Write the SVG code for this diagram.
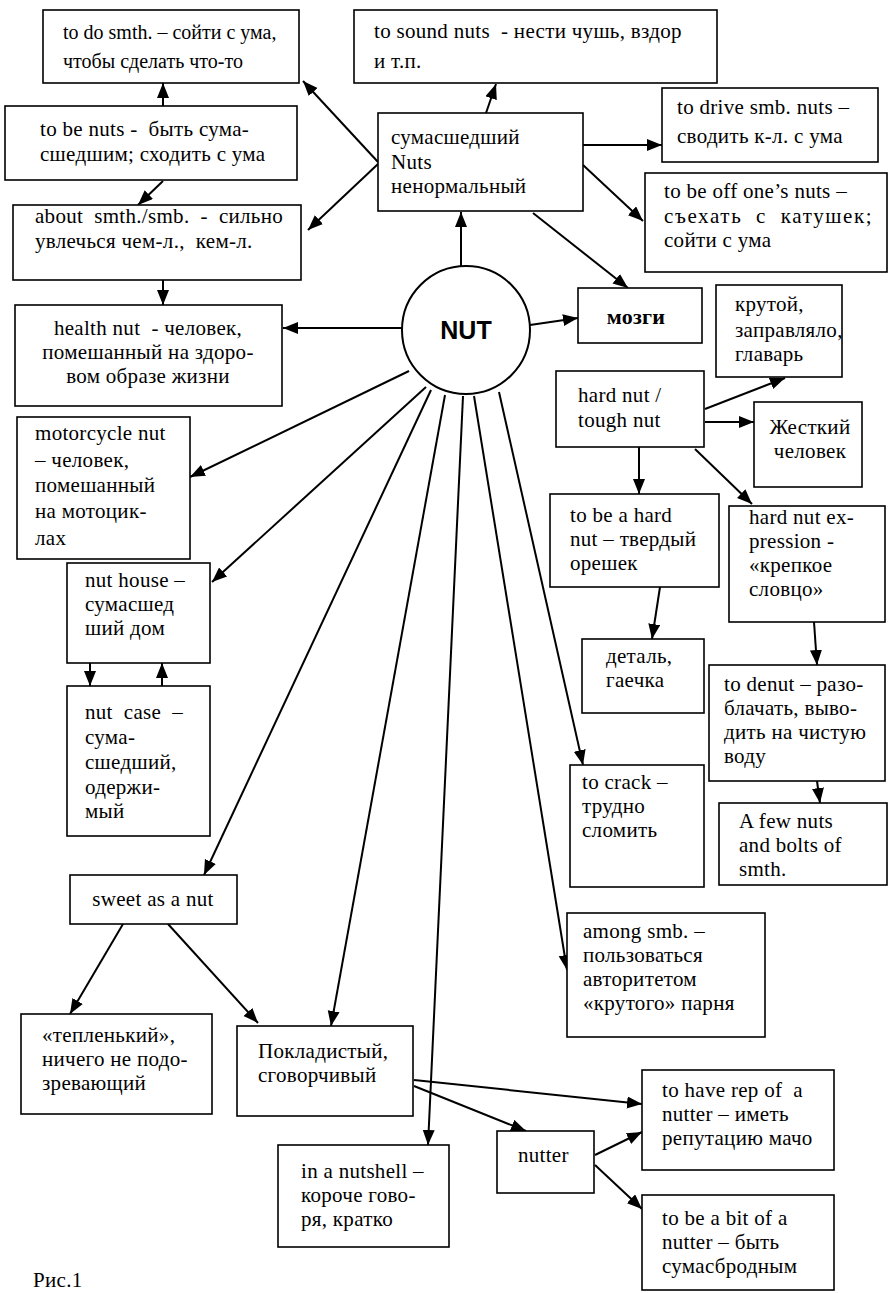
<svg xmlns="http://www.w3.org/2000/svg" width="888" height="1293" viewBox="0 0 888 1293" font-family="'Liberation Serif', serif">
<style>
  rect.box { fill: #fff; stroke: #000; stroke-width: 1.6; }
  text { font-family: "Liberation Serif", "Times New Roman", serif; font-size: 21px; letter-spacing: 0.3px; fill: #000; white-space: pre; }
  .mid { text-anchor: middle; }
  .small { font-size: 20px; letter-spacing: 0; }
  .nut { font-family: "Liberation Sans", Arial, sans-serif; font-weight: bold; font-size: 25px; letter-spacing: 0; }
  .bold { font-weight: bold; font-size: 22px; }
  #connectors line { stroke: #000; stroke-width: 2; marker-end: url(#ah); }
</style>
<defs>
  <marker id="ah" markerUnits="userSpaceOnUse" markerWidth="16" markerHeight="13" refX="15" refY="6" orient="auto">
    <path d="M0,0 L15,6 L0,12 z" fill="#000"/>
  </marker>
</defs>
<rect width="888" height="1293" fill="#fff"/>

<g id="connectors">
  <line x1="378" y1="162" x2="303" y2="81"/>
  <line x1="378" y1="164" x2="308" y2="230"/>
  <line x1="486" y1="113" x2="496" y2="84"/>
  <line x1="583" y1="145" x2="662" y2="145"/>
  <line x1="583" y1="165" x2="643" y2="221"/>
  <line x1="533" y1="213" x2="628" y2="288"/>
  <line x1="461" y1="266" x2="461" y2="212"/>
  <line x1="163" y1="106" x2="163" y2="83"/>
  <line x1="163" y1="181" x2="138" y2="205"/>
  <line x1="163" y1="280" x2="163" y2="305"/>
  <line x1="403" y1="328" x2="283" y2="328"/>
  <line x1="530" y1="325" x2="578" y2="318"/>
  <line x1="409" y1="371" x2="190" y2="477"/>
  <line x1="426" y1="387" x2="212" y2="582"/>
  <line x1="90" y1="663" x2="90" y2="686"/>
  <line x1="162" y1="686" x2="162" y2="663"/>
  <line x1="431" y1="390" x2="204" y2="875"/>
  <line x1="123" y1="924" x2="70" y2="1014"/>
  <line x1="168" y1="924" x2="258" y2="1023"/>
  <line x1="445" y1="395" x2="331" y2="1026"/>
  <line x1="463" y1="396" x2="428" y2="1145"/>
  <line x1="474" y1="396" x2="567" y2="970"/>
  <line x1="499" y1="392" x2="583" y2="765"/>
  <line x1="414" y1="1086" x2="526" y2="1131"/>
  <line x1="414" y1="1080" x2="642" y2="1104"/>
  <line x1="595" y1="1155" x2="642" y2="1132"/>
  <line x1="595" y1="1165" x2="642" y2="1209"/>
  <line x1="705" y1="409" x2="785" y2="378"/>
  <line x1="705" y1="422" x2="754" y2="422"/>
  <line x1="695" y1="449" x2="752" y2="504"/>
  <line x1="639" y1="447" x2="639" y2="494"/>
  <line x1="660" y1="587" x2="652" y2="639"/>
  <line x1="814" y1="622" x2="817" y2="665"/>
  <line x1="817" y1="781" x2="820" y2="803"/>
</g>

<g id="n_todo">
  <rect class="box" x="43" y="10" width="256" height="73"/>
  <text class="small" x="63" y="39">to do smth. – сойти с ума,</text>
  <text class="small" x="63" y="68">чтобы сделать что-то</text>
</g>
<g id="n_benuts">
  <rect class="box" x="5" y="106" width="292" height="74"/>
  <text x="40" y="136">to be nuts -  быть сума-</text>
  <text x="40" y="161">сшедшим; сходить с ума</text>
</g>
<g id="n_about">
  <rect class="box" x="13" y="205" width="288" height="75"/>
  <text x="35" y="223">about  smth./smb.  -  сильно</text>
  <text x="35" y="248">увлечься чем-л.,  кем-л.</text>
</g>
<g id="n_health">
  <rect class="box" x="15" y="305" width="267" height="101"/>
  <text class="mid" x="148" y="335">health nut  - человек,</text>
  <text class="mid" x="148" y="359">помешанный на здоро-</text>
  <text class="mid" x="148" y="383">вом образе жизни</text>
</g>
<g id="n_moto">
  <rect class="box" x="17" y="417" width="173" height="142"/>
  <text x="35" y="440">motorcycle nut</text>
  <text x="35" y="467">– человек,</text>
  <text x="35" y="492">помешанный</text>
  <text x="35" y="518">на мотоцик-</text>
  <text x="35" y="545">лах</text>
</g>
<g id="n_house">
  <rect class="box" x="67" y="563" width="143" height="100"/>
  <text x="85" y="587">nut house –</text>
  <text x="85" y="611">сумасшед</text>
  <text x="85" y="635">ший дом</text>
</g>
<g id="n_case">
  <rect class="box" x="67" y="686" width="143" height="150"/>
  <text x="85" y="719">nut  case  –</text>
  <text x="85" y="744">сума-</text>
  <text x="85" y="769">сшедший,</text>
  <text x="85" y="794">одержи-</text>
  <text x="85" y="818">мый</text>
</g>
<g id="n_sweet">
  <rect class="box" x="70" y="875" width="167" height="49"/>
  <text class="mid" x="153" y="906">sweet as a nut</text>
</g>
<g id="n_teplen">
  <rect class="box" x="21" y="1014" width="191" height="100"/>
  <text x="42" y="1042">«тепленький»,</text>
  <text x="42" y="1066">ничего не подо-</text>
  <text x="42" y="1090">зревающий</text>
</g>
<g id="n_poklad">
  <rect class="box" x="237" y="1026" width="176" height="90"/>
  <text x="258" y="1058">Покладистый,</text>
  <text x="258" y="1082">сговорчивый</text>
</g>
<g id="n_nutshell">
  <rect class="box" x="278" y="1145" width="171" height="102"/>
  <text x="301" y="1178">in a nutshell –</text>
  <text x="301" y="1202">короче гово-</text>
  <text x="301" y="1226">ря, кратко</text>
</g>
<g id="n_nutter">
  <rect class="box" x="497" y="1131" width="97" height="62"/>
  <text x="518" y="1162">nutter</text>
</g>
<g id="n_rep">
  <rect class="box" x="642" y="1070" width="192" height="100"/>
  <text x="662" y="1097">to have rep of  a</text>
  <text x="662" y="1121">nutter – иметь</text>
  <text x="662" y="1145">репутацию мачо</text>
</g>
<g id="n_bit">
  <rect class="box" x="642" y="1195" width="192" height="95"/>
  <text x="662" y="1225">to be a bit of a</text>
  <text x="662" y="1249">nutter – быть</text>
  <text x="662" y="1273">сумасбродным</text>
</g>
<g id="n_among">
  <rect class="box" x="567" y="913" width="198" height="124"/>
  <text x="583" y="938">among smb. –</text>
  <text x="583" y="962">пользоваться</text>
  <text x="583" y="986">авторитетом</text>
  <text x="583" y="1010">«крутого» парня</text>
</g>
<g id="n_crack">
  <rect class="box" x="570" y="765" width="134" height="122"/>
  <text x="582" y="789">to crack –</text>
  <text x="582" y="813">трудно</text>
  <text x="582" y="837">сломить</text>
</g>
<g id="n_denut">
  <rect class="box" x="709" y="665" width="176" height="116"/>
  <text x="724" y="691">to denut – разо-</text>
  <text x="724" y="715">блачать, выво-</text>
  <text x="724" y="739">дить на чистую</text>
  <text x="724" y="763">воду</text>
</g>
<g id="n_fewnuts">
  <rect class="box" x="719" y="803" width="168" height="82"/>
  <text x="739" y="828">A few nuts</text>
  <text x="739" y="852">and bolts of</text>
  <text x="739" y="876">smth.</text>
</g>
<g id="n_detal">
  <rect class="box" x="582" y="639" width="122" height="74"/>
  <text x="606" y="663">деталь,</text>
  <text x="606" y="687">гаечка</text>
</g>
<g id="n_expr">
  <rect class="box" x="729" y="506" width="156" height="116"/>
  <text x="749" y="524">hard nut ex-</text>
  <text x="749" y="548">pression -</text>
  <text x="749" y="572">«крепкое</text>
  <text x="749" y="596">словцо»</text>
</g>
<g id="n_tobehard">
  <rect class="box" x="550" y="494" width="169" height="93"/>
  <text x="570" y="522">to be a hard</text>
  <text x="570" y="546">nut – твердый</text>
  <text x="570" y="570">орешек</text>
</g>
<g id="n_hardnut">
  <rect class="box" x="556" y="371" width="148" height="76"/>
  <text x="578" y="402">hard nut /</text>
  <text x="578" y="427">tough nut</text>
</g>
<g id="n_zhest">
  <rect class="box" x="754" y="402" width="108" height="85"/>
  <text class="mid" x="810" y="434">Жесткий</text>
  <text class="mid" x="810" y="458">человек</text>
</g>
<g id="n_krut">
  <rect class="box" x="716" y="285" width="126" height="92"/>
  <text x="735" y="311">крутой,</text>
  <text x="735" y="337">заправляло,</text>
  <text x="735" y="361">главарь</text>
</g>
<g id="n_mozgi">
  <rect class="box" x="578" y="288" width="124" height="55"/>
  <text class="mid bold" x="636" y="324">мозги</text>
</g>
<g id="n_offnuts">
  <rect class="box" x="645" y="173" width="242" height="99"/>
  <text x="664" y="198">to be off one’s nuts –</text>
  <text x="664" y="223" textLength="208" lengthAdjust="spacing">съехать  с  катушек;</text>
  <text x="664" y="247">сойти с ума</text>
</g>
<g id="n_drive">
  <rect class="box" x="662" y="88" width="216" height="74"/>
  <text x="677" y="114">to drive smb. nuts –</text>
  <text x="677" y="143">сводить к-л. с ума</text>
</g>
<g id="n_sound">
  <rect class="box" x="354" y="10" width="363" height="73"/>
  <text x="374" y="38">to sound nuts  - нести чушь, вздор</text>
  <text x="374" y="68">и т.п.</text>
</g>
<g id="n_sumas">
  <rect class="box" x="378" y="113" width="205" height="98"/>
  <text x="391" y="144">сумасшедший</text>
  <text x="391" y="169">Nuts</text>
  <text x="391" y="193">ненормальный</text>
</g>
<g id="n_nut">
  <circle cx="466" cy="330" r="64" fill="#fff" stroke="#000" stroke-width="2"/>
  <text class="nut mid" x="466" y="339">NUT</text>
</g>
<g id="caption">
  <text x="33" y="1287">Рис.1</text>
</g>
</svg>
